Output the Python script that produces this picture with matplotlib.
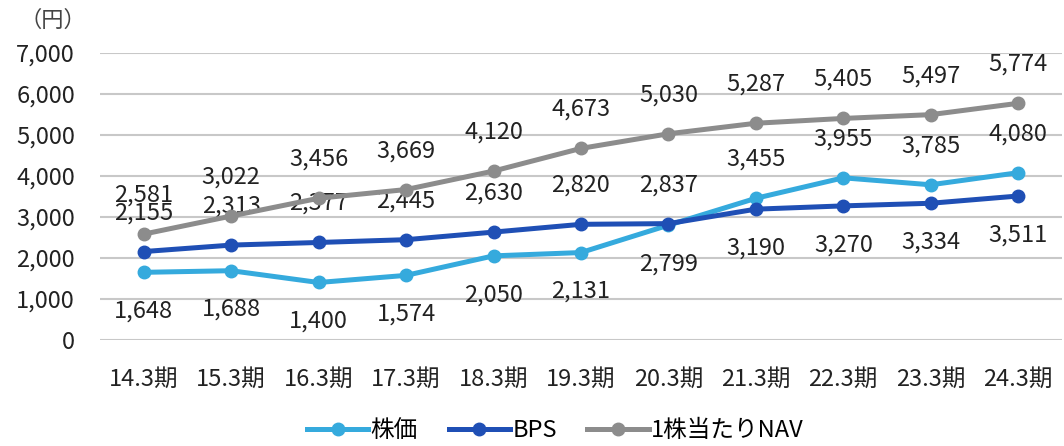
"""
    株価・BPS・1株当たりNAV の推移
"""

import matplotlib
matplotlib.use("Agg")
import matplotlib.pyplot as plt

plt.rcParams['font.family'] = ['Noto Sans CJK JP', 'DejaVu Sans']

periods = ['14.3期', '15.3期', '16.3期', '17.3期', '18.3期', '19.3期',
           '20.3期', '21.3期', '22.3期', '23.3期', '24.3期']
price = [1648, 1688, 1400, 1574, 2050, 2131, 2799, 3455, 3955, 3785, 4080]
bps = [2155, 2313, 2377, 2445, 2630, 2820, 2837, 3190, 3270, 3334, 3511]
nav = [2581, 3022, 3456, 3669, 4120, 4673, 5030, 5287, 5405, 5497, 5774]

# label placement: +1 above, -1 below
price_pos = [-1, -1, -1, -1, -1, -1, -1, 1, 1, 1, 1]
bps_pos = [1, 1, 1, 1, 1, 1, 1, -1, -1, -1, -1]
nav_pos = [1] * 11

c_price = '#35aadd'
c_bps = '#1f4fb5'
c_nav = '#8c8c8c'


def main() -> None:
    fig = plt.figure(figsize=(10.64, 4.46), dpi=100)
    ax = fig.add_axes([0.094, 0.238, 0.904, 0.643])
    x = list(range(len(periods)))

    series = [
        (price, price_pos, c_price, '株価'),
        (bps, bps_pos, c_bps, 'BPS'),
        (nav, nav_pos, c_nav, '1株当たりNAV'),
    ]
    for vals, pos, col, name in series:
        ax.plot(x, vals, color=col, lw=3.6, marker='o', ms=9,
                label=name, zorder=3)
        for xi, v, p in zip(x, vals, pos):
            ax.annotate(f'{v:,}', (xi, v), xytext=(0, 28 * p),
                        textcoords='offset points', ha='center',
                        va='center', fontsize=17, color='#222222')

    ax.set_xlim(-0.5, len(periods) - 0.5)
    ax.set_ylim(0, 7000)
    ax.set_yticks(range(0, 7001, 1000))
    ax.set_yticklabels([f'{v:,}' for v in range(0, 7001, 1000)])
    ax.set_xticks(x)
    ax.set_xticklabels(periods)
    ax.tick_params(axis='both', length=0, labelsize=17, colors='#222222')
    ax.tick_params(axis='x', pad=20)
    ax.tick_params(axis='y', pad=18)
    ax.grid(axis='y', color='#c8c8c8', lw=1.5)
    ax.set_axisbelow(True)
    for s in ax.spines.values():
        s.set_visible(False)

    fig.text(0.018, 0.955, '（円）', fontsize=16, color='#444444',
             ha='left', va='center')

    fig.legend(loc='center', bbox_to_anchor=(0.522, 0.035), ncol=3,
               frameon=False, fontsize=17, handlelength=2.6,
               columnspacing=1.3, handletextpad=0.1)

    fig.savefig('out.png', dpi=100)


if __name__ == "__main__":
    main()
